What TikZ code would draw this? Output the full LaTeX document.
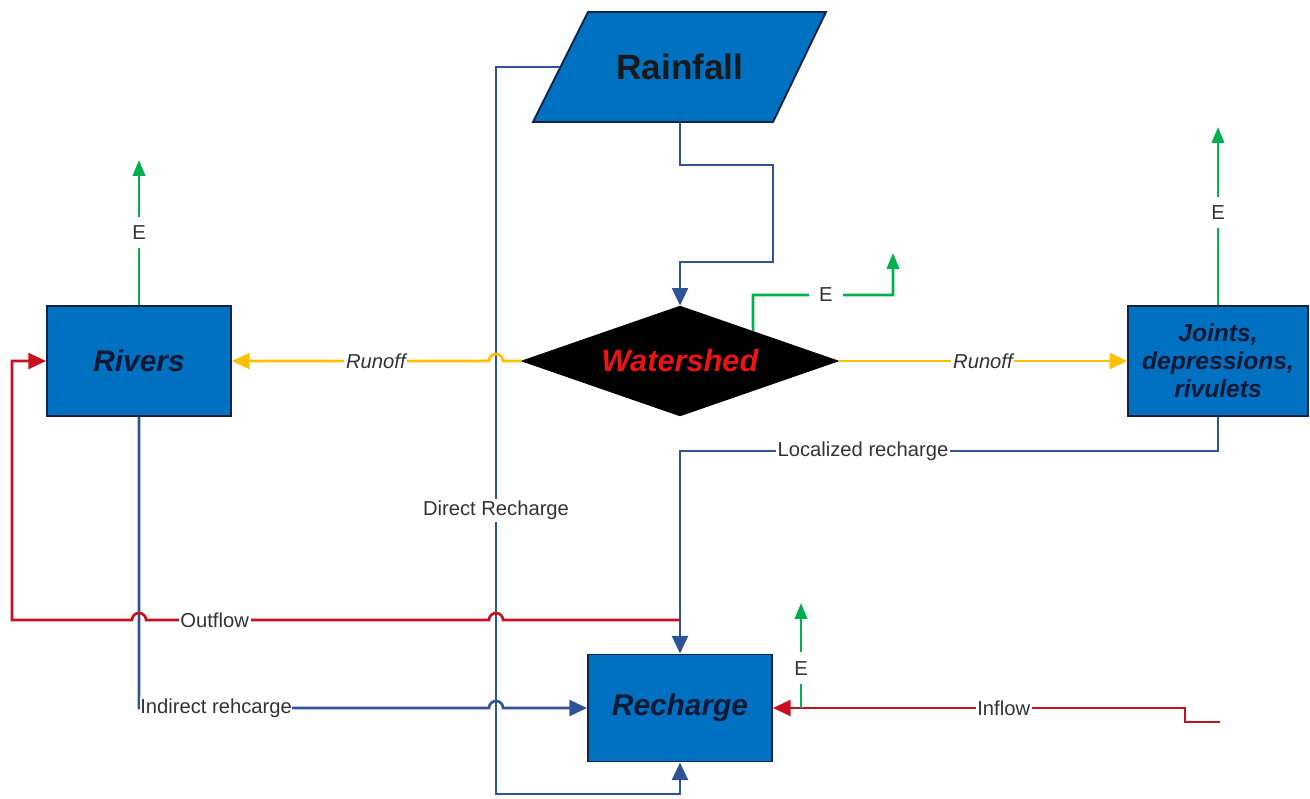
\documentclass[tikz,border=0pt]{standalone}
\usepackage{fontspec}
\setmainfont{Liberation Sans}
\usetikzlibrary{arrows.meta,shapes.geometric,calc}
\definecolor{boxblue}{RGB}{0,112,192}
\definecolor{boxline}{RGB}{20,36,70}
\definecolor{boxtext}{RGB}{12,24,52}
\definecolor{flowblue}{RGB}{47,84,150}
\definecolor{flowred}{RGB}{200,16,30}
\definecolor{runoffyellow}{RGB}{255,192,0}
\definecolor{evapgreen}{RGB}{0,176,80}
\definecolor{shedred}{RGB}{235,20,20}
\tikzset{
  box/.style={draw=boxline, line width=1.1pt, fill=boxblue, text=boxtext,
    font=\fontsize{17}{20}\selectfont\bfseries\itshape,
    minimum width=3.68cm, minimum height=2.2cm, inner sep=0pt, align=center},
  shed/.style={diamond, aspect=2.88, draw=black, fill=black, text=shedred,
    font=\fontsize{17.5}{20}\selectfont\bfseries\itshape,
    minimum width=6.34cm, minimum height=2.2cm, inner sep=0pt},
  flow/.style={line width=1.5pt, -{Triangle[length=10pt,width=9pt]}},
  lbl/.style={fill=white, inner sep=1pt, text=black!80,
    font=\fontsize{11.5}{13}\selectfont},
  evap/.style={evapgreen, line width=1.5pt, -{Triangle[length=9pt,width=7pt]}},
  evlbl/.style={lbl, inner ysep=5pt},
}
\begin{document}
\begin{tikzpicture}[x=0.02cm, y=-0.02cm]
  \useasboundingbox (0,0) rectangle (1310,798);

  %% shapes
  \draw[fill=boxblue, draw=boxline, line width=1.1pt] (588,12) -- (826,12) -- (773,122) -- (533,122) -- cycle;
  \node[font=\fontsize{20}{24}\selectfont\bfseries, text=black!90] (rain) at (680,67) {Rainfall};
  \coordinate (rainS) at (680,122);
  \coordinate (rainW) at (560,67);

  \node[box] (riv) at (139,361) {Rivers};
  \node[shed] (ws) at (680,361) {Watershed};
  \node[box, minimum width=3.6cm, font=\fontsize{14}{16}\selectfont\bfseries\itshape] (jts) at (1218,361) {Joints,\\depressions,\\rivulets};
  \node[box, minimum height=2.14cm] (rec) at (680,708) {Recharge};

  %% rainfall
  \draw[flowblue, flow] (rainS) -- (680,165) -- (773,165) -- (773,262) -- (680,262) -- (ws.north);
  \draw[flowblue, flow] (rainW) -- (496,67) -- node[lbl, pos=0.61] {Direct Recharge} (496,794) -- (680,794) -- (rec.south);

  %% runoff
  \draw[runoffyellow, flow] (ws.west) -- (503,361) arc[start angle=0, end angle=180, radius=1.4mm]
    -- node[lbl, pos=0.44, font=\fontsize{11.5}{13}\selectfont\itshape] {Runoff} (riv.east);
  \draw[runoffyellow, flow] (ws.east) -- node[lbl, pos=0.5, font=\fontsize{11.5}{13}\selectfont\itshape] {Runoff} (jts.west);

  %% recharge
  \draw[flowblue, flow] (riv.south) -- (139,708) node[lbl, anchor=west, inner xsep=0pt] {Indirect rehcarge}
    -- (489,708) arc[start angle=180, end angle=0, radius=1.4mm] -- (rec.west);
  \draw[flowblue, flow] (jts.south) -- (1218,451) -- node[lbl, pos=0.66] {Localized recharge} (680,451) -- (rec.north);

  %% outflow / inflow
  \coordinate (outS) at (680,620);
  \draw[flowred, flow] (outS) -- (503,620) arc[start angle=0, end angle=180, radius=1.4mm]
    -- node[lbl, pos=0.8] {Outflow} (146,620) arc[start angle=0, end angle=180, radius=1.4mm]
    -- (12,620) -- (12,361) -- (riv.west);
  \coordinate (inE) at (1220,722);
  \draw[flowred, flow] (inE) -- (1185,722) -- (1185,708) -- node[lbl, pos=0.44] {Inflow} (rec.east);

  %% evaporation
  \draw[evap] (riv.north) -- node[evlbl, pos=0.5] {E} ++(0,-145);
  \draw[evap] ($(ws.north)!0.46!(ws.east)$) -- (753,295) -- node[lbl, inner xsep=6pt, pos=0.52] {E} (893,295) -- (893,253);
  \draw[evap] (jts.north) -- node[evlbl, pos=0.52] {E} ++(0,-178);
  \coordinate (recE) at (801,708);
  \draw[evap] (recE) -- node[evlbl, pos=0.38] {E} (801,603);
\end{tikzpicture}
\end{document}
